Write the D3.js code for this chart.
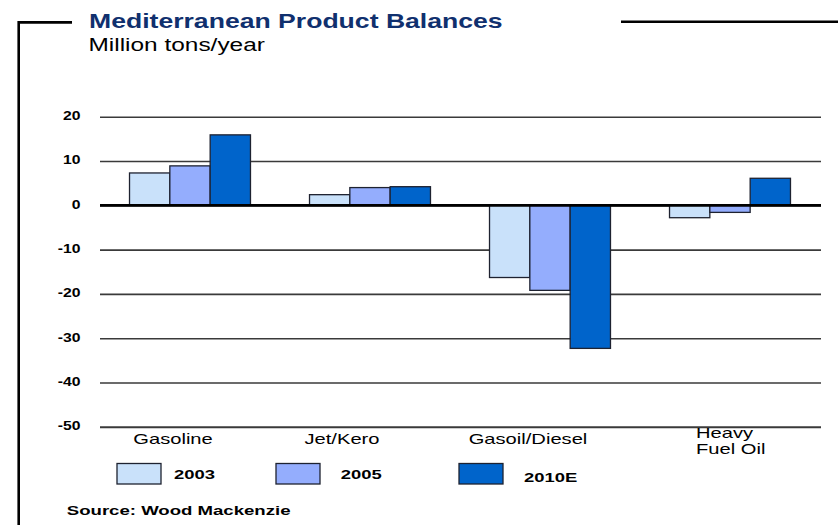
<!DOCTYPE html>
<html>
<head>
<meta charset="utf-8">
<script src="https://cdn.jsdelivr.net/npm/d3@7"></script>
<style>
  html, body { margin: 0; padding: 0; background: #fff; }
  svg { display: block; font-family: "Liberation Sans", Arial, sans-serif; }
</style>
</head>
<body>
<svg id="chart" width="838" height="525"></svg>
<script>
// Mediterranean product balances, million tons/year
const categories = ["Gasoline", "Jet/Kero", "Gasoil/Diesel", "Heavy\nFuel Oil"];
const seriesNames = ["2003", "2005", "2010E"];
const values2003 = [7.3, 2.4, -16.3, -2.8];
const values2005 = [8.9, 4.0, -19.2, -1.6];
const values2010E = [15.9, 4.2, -32.3, 6.1];
const yTicks = [20, 10, 0, -10, -20, -30, -40, -50];

const seriesValues = [values2003, values2005, values2010E];
const colors = ["#c9e1fa", "#94adfd", "#0064cb"];

const svg = d3.select("#chart");

// Text in this figure is drawn horizontally widened
function placeText(sel, x, y, sx) {
  sel.attr("transform", `translate(${x},${y}) scale(${sx},1)`);
  return sel;
}

// Frame line around the title
const frame = svg.append("g").attr("fill", "none").attr("stroke", "#000").attr("stroke-width", 2.6);
frame.append("path").attr("d", "M72,22.4 H18.7 V525");
frame.append("path").attr("d", "M621,21.8 H838");

// Title and unit
placeText(svg.append("text"), 89, 27.5, 1.33)
  .attr("font-size", 20).attr("font-weight", "bold").attr("fill", "#10306e")
  .text("Mediterranean Product Balances");
placeText(svg.append("text"), 88.5, 51, 1.32)
  .attr("font-size", 18.5).attr("fill", "#000")
  .text("Million tons/year");

// Scales
const x = d3.scaleBand().domain(categories).range([100, 820])
  .paddingInner(0.328).paddingOuter(0.164);
const xs = d3.scaleBand().domain(seriesNames).range([0, x.bandwidth()]);
const y = d3.scaleLinear().domain([-50, 20]).range([426.8, 116.7]);

// Y axis with gridlines
const yAxis = svg.append("g").attr("transform", "translate(100,0)")
  .call(d3.axisLeft(y).tickValues(yTicks).tickSize(-721).tickFormat(d => String(d)));
yAxis.select(".domain").remove();
yAxis.selectAll(".tick line")
  .attr("stroke", "#3a3a3a").attr("stroke-width", d => d === -50 ? 2 : 1.6);
yAxis.selectAll(".tick text")
  .attr("x", null).attr("dy", null)
  .attr("transform", "translate(-19.5,2.8) scale(1.31,1)")
  .attr("text-anchor", "end")
  .attr("font-size", 12).attr("font-weight", "bold").attr("fill", "#000")
  .attr("font-family", "Liberation Sans, Arial, sans-serif");

// Bars
const groups = svg.append("g").selectAll("g")
  .data(categories).join("g")
  .attr("transform", d => `translate(${x(d)},0)`);
groups.selectAll("rect")
  .data((d, i) => seriesNames.map((s, j) => ({ s, j, v: seriesValues[j][i] })))
  .join("rect")
  .attr("x", d => xs(d.s))
  .attr("width", xs.bandwidth())
  .attr("y", d => y(Math.max(0, d.v)))
  .attr("height", d => Math.abs(y(d.v) - y(0)))
  .attr("fill", d => colors[d.j])
  .attr("stroke", "#1e2230").attr("stroke-width", 1.3);

// Zero baseline on top of the bars
svg.append("line")
  .attr("x1", 100).attr("x2", 821).attr("y1", y(0)).attr("y2", y(0))
  .attr("stroke", "#000").attr("stroke-width", 2.8);

// Category labels
const labelNudge = [-17, -28, -22, -34];
categories.forEach((c, i) => {
  const lines = c.split("\n");
  const cx = x(c) + x.bandwidth() / 2 + labelNudge[i];
  lines.forEach((ln, k) => {
    const baseY = lines.length > 1 ? 438 + k * 16.3 : 444;
    placeText(svg.append("text"), cx, baseY, 1.44)
      .attr("font-size", 14).attr("fill", "#000")
      .attr("text-anchor", lines.length > 1 ? "start" : "middle")
      .text(ln);
  });
});

// Legend
const legendLayout = [
  { sx: 117, tx: 174, ty: 478.5 },
  { sx: 276, tx: 340.7, ty: 478.5 },
  { sx: 459, tx: 524, ty: 481.5 }
];
seriesNames.forEach((s, j) => {
  const L = legendLayout[j];
  svg.append("rect")
    .attr("x", L.sx).attr("y", 463.5).attr("width", 44).attr("height", 20.5)
    .attr("fill", colors[j]).attr("stroke", "#1e2230").attr("stroke-width", 1.3);
  placeText(svg.append("text"), L.tx, L.ty, 1.5)
    .attr("font-size", 12.3).attr("font-weight", "bold").attr("fill", "#000")
    .text(s);
});

// Source note
placeText(svg.append("text"), 66.8, 515, 1.43)
  .attr("font-size", 13).attr("font-weight", "bold").attr("fill", "#000")
  .text("Source: Wood Mackenzie");
</script>
</body>
</html>
